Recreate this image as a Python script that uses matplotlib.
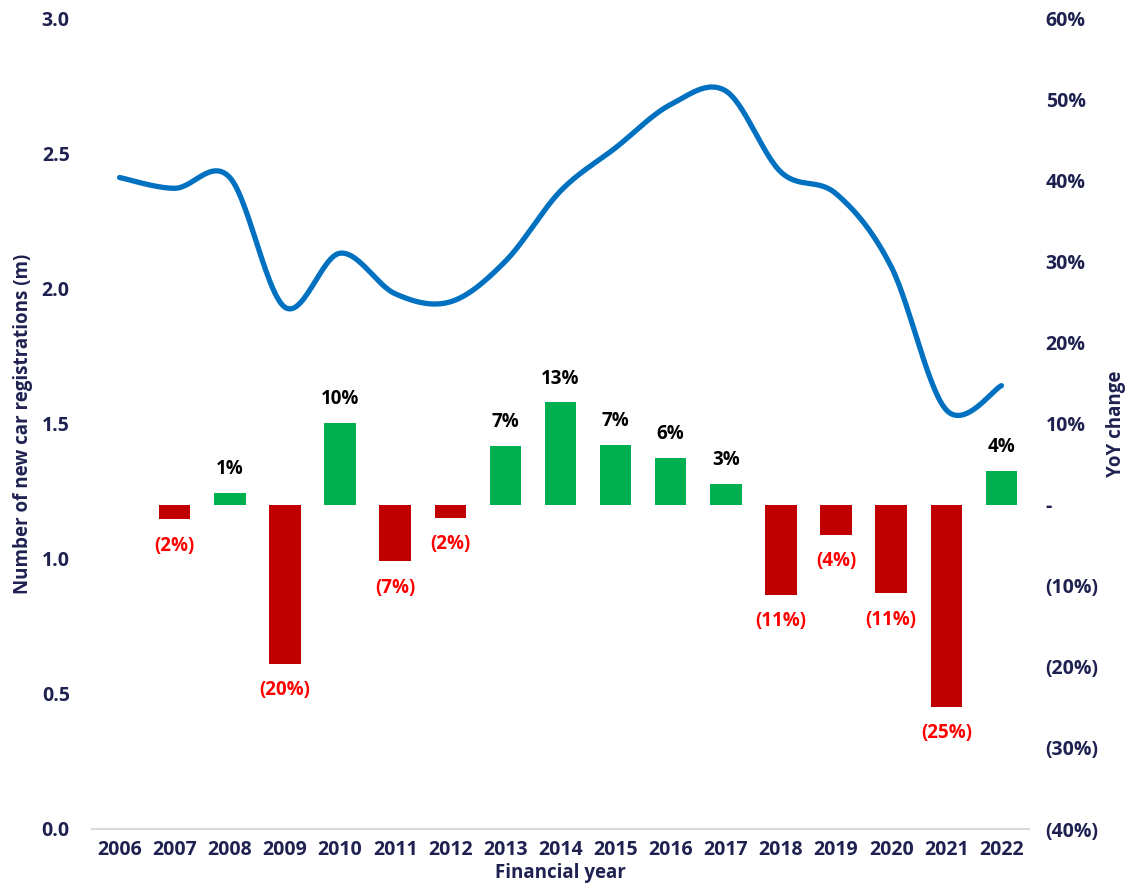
import numpy as np
import matplotlib
matplotlib.use("Agg")
import matplotlib.pyplot as plt
from matplotlib.ticker import FuncFormatter, MultipleLocator

years = list(range(2006, 2023))
registrations = [2.41, 2.37, 2.41, 1.93, 2.13, 1.98, 1.95, 2.10, 2.36, 2.52,
                 2.68, 2.73, 2.43, 2.35, 2.08, 1.55, 1.64]
yoy_pct = [np.nan, -1.8, 1.4, -19.6, 10.1, -7.0, -1.6, 7.2, 12.6, 7.4,
           5.8, 2.6, -11.1, -3.7, -10.9, -24.9, 4.1]

NAVY = "#1F2251"
GREEN = "#00B050"
RED = "#C00000"
LABEL_RED = "#FF0000"
BLUE = "#0070C0"

plt.rcParams['font.family'] = ['Open Sans', 'DejaVu Sans']
W = 'bold'
FS = 13.5
TFS = 14

fig = plt.figure(figsize=(11.27, 8.92), dpi=100)
ax = fig.add_axes([92/1127, (892-829)/892, (1029-92)/1127, (829-18)/892])
ax2 = ax.twinx()

x = np.arange(len(years))

# smoothed line (Catmull-Rom / Bezier, like spreadsheet smoothing)
P = np.column_stack([x, registrations]).astype(float)
Pext = np.vstack([P[0], P, P[-1]])
pts = []
t = np.linspace(0, 1, 30)[:, None]
for i in range(len(P) - 1):
    p0, p1, p2, p3 = Pext[i], Pext[i+1], Pext[i+2], Pext[i+3]
    c1 = p1 + (p2 - p0) / 6
    c2 = p2 - (p3 - p1) / 6
    seg = ((1-t)**3)*p1 + 3*((1-t)**2)*t*c1 + 3*(1-t)*t**2*c2 + t**3*p2
    pts.append(seg if i == 0 else seg[1:])
curve = np.vstack(pts)
ax.plot(curve[:, 0], curve[:, 1], color=BLUE, lw=3.8, solid_capstyle='round', zorder=3)

# bars on right axis
yoy = np.array(yoy_pct)
colors = [GREEN if v >= 0 else RED for v in np.nan_to_num(yoy)]
ax2.bar(x, np.nan_to_num(yoy), width=0.57, color=colors, zorder=2)
for xi, v in zip(x, yoy):
    if np.isnan(v):
        continue
    if v >= 0:
        ax2.annotate(f"{abs(v):.0f}%", (xi, v), xytext=(0, 10), textcoords="offset points",
                     ha='center', va='bottom', fontsize=FS, color='black', fontweight=W)
    else:
        ax2.annotate(f"({abs(v):.0f}%)", (xi, v), xytext=(0, -12), textcoords="offset points",
                     ha='center', va='top', fontsize=FS, color=LABEL_RED, fontweight=W)

ax.set_zorder(ax2.get_zorder() + 1)
ax.patch.set_visible(False)

ax.set_xlim(-0.5, len(years) - 0.5)
ax.set_ylim(0, 3.0)
ax2.set_ylim(-40, 60)
ax.yaxis.set_major_locator(MultipleLocator(0.5))
ax2.yaxis.set_major_locator(MultipleLocator(10))
ax.yaxis.set_major_formatter(FuncFormatter(lambda v, p: f"{v:.1f}"))


def pct_fmt(v, p):
    v = round(v)
    if v == 0:
        return "-"
    if v < 0:
        return f"({abs(v)}%)"
    return f"{v}%"


ax2.yaxis.set_major_formatter(FuncFormatter(pct_fmt))
ax.set_xticks(x)
ax.set_xticklabels([str(y) for y in years])

for a in (ax, ax2):
    for s in a.spines.values():
        s.set_visible(False)
    a.tick_params(length=0, colors=NAVY, labelsize=TFS)
ax.spines['bottom'].set_visible(True)
ax.spines['bottom'].set_color('#D9D9D9')
ax.spines['bottom'].set_linewidth(1.5)
ax.tick_params(axis='y', pad=16)
ax2.tick_params(axis='y', pad=12)
ax.tick_params(axis='x', pad=8)
for lab in ax.get_xticklabels() + ax.get_yticklabels() + ax2.get_yticklabels():
    lab.set_fontweight(W)
    lab.set_color(NAVY)
for lab in ax2.get_yticklabels():
    lab.set_horizontalalignment('left')

ax.set_ylabel("Number of new car registrations (m)", fontsize=FS, color=NAVY, fontweight=W, labelpad=6)
ax2.set_ylabel("YoY change", fontsize=FS, color=NAVY, fontweight=W, labelpad=5)
ax.set_xlabel("Financial year", fontsize=FS, color=NAVY, fontweight=W, labelpad=2)

fig.savefig("out.png", dpi=100)
